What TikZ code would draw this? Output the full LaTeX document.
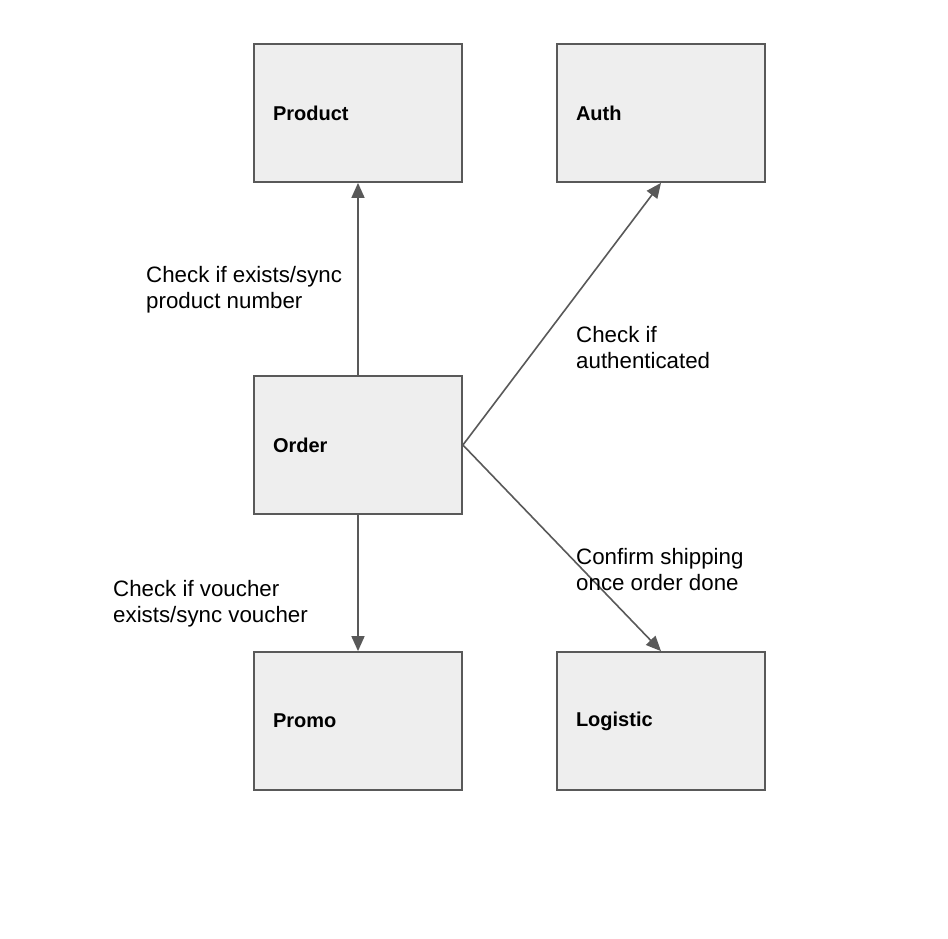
\documentclass[tikz,border=0pt]{standalone}
\usepackage{fontspec}
\setmainfont{Liberation Sans}
\usetikzlibrary{arrows.meta}
\definecolor{edgecol}{HTML}{595959}
\definecolor{boxfill}{HTML}{EEEEEE}
\begin{document}
\begin{tikzpicture}[x=1pt,y=-1pt,
 box/.style={draw=edgecol, fill=boxfill, line width=1.8pt, minimum width=208pt, minimum height=138pt,
   inner xsep=19pt, inner ysep=0pt, text width=170pt, align=left,
   font=\fontsize{20}{24}\selectfont\bfseries},
 lbl/.style={font=\fontsize{22.3}{26}\selectfont, anchor=base west, align=left, inner sep=0pt},
 conn/.style={draw=edgecol, line width=1.6pt, -{Triangle[length=15pt,width=13pt]}}]
\useasboundingbox[fill=white] (0,0) rectangle (948,938);
\node[box] (product) at (358,113) {Product};
\node[box] (auth) at (661,113) {Auth};
\node[box] (order) at (358,445) {Order};
\node[box] (promo) at (358,721) {Promo};
\node[box] (logistic) at (661,721) {Logistic};
\draw[conn] (order.north) -- (product.south);
\draw[conn] (order.east) -- (auth.south);
\draw[conn] (order.east) -- (logistic.north);
\draw[conn] (order.south) -- (promo.north);
\node[lbl] (l1) at (146,308.5) {Check if exists/sync\\product number};
\node[lbl] (l2) at (576,368) {Check if\\authenticated};
\node[lbl] (l3) at (113,622.5) {Check if voucher\\exists/sync voucher};
\node[lbl] (l4) at (576,590) {Confirm shipping\\once order done};
\end{tikzpicture}
\end{document}
